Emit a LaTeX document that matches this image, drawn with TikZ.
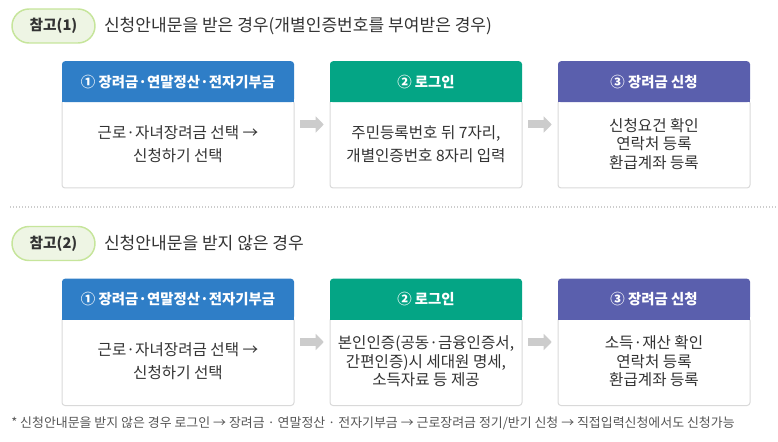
\documentclass[tikz,border=0pt]{standalone}
\usepackage{fontspec}
\setmainfont{Noto Sans CJK KR}
\usetikzlibrary{positioning,arrows.meta}
\definecolor{hdrblue}{HTML}{2F7EC7}
\definecolor{hdrgreen}{HTML}{04A585}
\definecolor{hdrpurple}{HTML}{5A5FAD}
\definecolor{boxgray}{HTML}{D9D9D9}
\definecolor{txtgray}{HTML}{333333}
\definecolor{notegray}{HTML}{555555}
\definecolor{pillfill}{HTML}{EEF5E4}
\definecolor{pilldraw}{HTML}{C6E59B}
\definecolor{flowgray}{HTML}{CCCCCC}
\begin{document}
\begin{tikzpicture}[x=0.75pt,y=-0.75pt,line join=round]
			\tikzset{pill/.style={draw=pilldraw,line width=1.1pt,fill=pillfill,rounded corners=12.75pt,minimum width=62.25pt,minimum height=25.5pt,inner sep=0pt,text=txtgray,font=\fontsize{11}{13}\selectfont\bfseries},
				heading/.style={right=6pt of #1,inner sep=0pt,text=txtgray,font=\fontsize{12.8}{15}\selectfont},
				hdr/.style={fill=#1,text=white,rounded corners=2.25pt,minimum height=30.75pt,inner sep=0pt,font=\fontsize{10.8}{12}\selectfont\bfseries},
				body/.style={draw=boxgray,line width=0.75pt,fill=white,rounded corners=2.25pt,minimum height=66pt,inner sep=0pt,align=center,text=txtgray,font=\fontsize{11.7}{17.25}\selectfont},
				three/.style={font=\fontsize{11.7}{13.9}\selectfont},
				flow/.style={draw=flowgray,line width=6pt,-{Triangle[length=6pt,width=12pt]}}}
			\useasboundingbox (0,0) rectangle (778,442);
			% section 1
			\node[pill] (p1) at (53.5,26) {참고(1)};
			\node[heading=p1] (s1) {신청안내문을 받은 경우(개별인증번호를 부여받은 경우)};
			\node[body,minimum width=174pt] (t1) at (178,144) {근로·자녀장려금 선택 →\\신청하기 선택};
			\node[body,minimum width=144pt,right=26.25pt of t1] (t2) {주민등록번호 뒤 7자리,\\개별인증번호 8자리 입력};
			\node[body,three,minimum width=144pt,right=26.25pt of t2] (t3) {신청요건 확인\\연락처 등록\\환급계좌 등록};
			% section 2
			\draw[flowgray,line width=0.75pt,dash pattern=on 0.75pt off 1.5pt] (10,207)--(778,207);
			\node[pill] (p2) at (53.5,243.5) {참고(2)};
			\node[heading=p2] (s2) {신청안내문을 받지 않은 경우};
			\node[body,minimum width=174pt] (t4) at (178,361.5) {근로·자녀장려금 선택 →\\신청하기 선택};
			\node[body,three,minimum width=144pt,right=26.25pt of t4] (t5) {본인인증(공동·금융인증서,\\간편인증)시 세대원 명세,\\소득자료 등 제공};
			\node[body,three,minimum width=144pt,right=26.25pt of t5] (t6) {소득·재산 확인\\연락처 등록\\환급계좌 등록};
			% headers
			\foreach \t/\h/\c/\w/\s in {t1/h1/hdrblue/174/{① 장려금·연말정산·전자기부금},t2/h2/hdrgreen/144/{② 로그인},t3/h3/hdrpurple/144/{③ 장려금 신청},
				t4/h4/hdrblue/174/{① 장려금·연말정산·전자기부금},t5/h5/hdrgreen/144/{② 로그인},t6/h6/hdrpurple/144/{③ 장려금 신청}}{
				\node[hdr=\c,minimum width=\w pt,above=-2.25pt of \t] (\h) {\s};
				\fill[\c] (\h.south west) rectangle ([yshift=4pt]\h.south east);
			}
			% arrows
			\foreach \a/\b in {h1/h2,h2/h3,h4/h5,h5/h6}
			\draw[flow] ([xshift=4.5pt,yshift=-16.5pt]\a.south east)--([xshift=-4.5pt,yshift=-16.5pt]\b.south west);
			\node[anchor=west,inner sep=0pt,text=notegray,font=\fontsize{9.7}{11}\selectfont] (note) at (11,423) {* 신청안내문을 받지 않은 경우 로그인 → 장려금 · 연말정산 · 전자기부금 → 근로장려금 정기/반기 신청 → 직접입력신청에서도 신청가능};
\end{tikzpicture}
\end{document}
